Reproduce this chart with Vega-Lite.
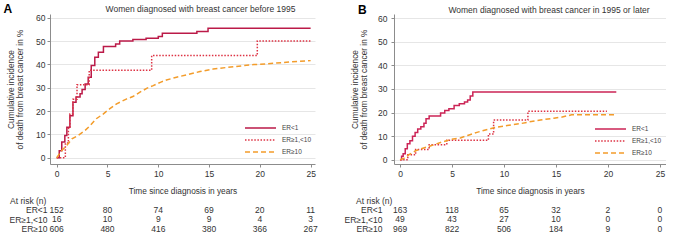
{
  "$schema": "https://vega.github.io/schema/vega-lite/v6.json",
  "padding": {"left": 3, "top": 3, "right": 0, "bottom": 0},
  "background": "white",
  "config": {
    "font": "Liberation Sans",
    "view": {"stroke": null},
    "axis": {"labelFont": "Liberation Sans", "labelFontSize": 8.5, "labelColor": "#333333", "titleFont": "Liberation Sans", "titleFontSize": 8.3, "titleFontWeight": "normal", "titleColor": "#333333", "domainColor": "#8c8c8c", "tickColor": "#8c8c8c", "tickSize": 3, "gridColor": "#e6e6e6"},
    "title": {"font": "Liberation Sans", "fontSize": 8.5, "fontWeight": "normal", "color": "#333333"},
    "legend": {"orient": "none", "title": null, "symbolType": "stroke", "symbolSize": 961, "symbolStrokeWidth": 1.5, "labelFontSize": 6.5, "labelColor": "#444444", "clipHeight": 10, "rowPadding": 2, "padding": 0, "labelOffset": 5}
  },
  "datasets": {
    "a_curves": [
      {"t": 0, "v": 0, "g": "ER<1"}, {"t": 0.25, "v": 3, "g": "ER<1"}, {"t": 0.5, "v": 6.7, "g": "ER<1"}, {"t": 0.8, "v": 9.5, "g": "ER<1"}, {"t": 1.0, "v": 13, "g": "ER<1"}, {"t": 1.3, "v": 18, "g": "ER<1"}, {"t": 1.6, "v": 23.8, "g": "ER<1"}, {"t": 1.9, "v": 26, "g": "ER<1"}, {"t": 2.3, "v": 27.4, "g": "ER<1"}, {"t": 2.5, "v": 29.2, "g": "ER<1"}, {"t": 2.8, "v": 31.6, "g": "ER<1"}, {"t": 3.1, "v": 34.5, "g": "ER<1"}, {"t": 3.4, "v": 39.5, "g": "ER<1"}, {"t": 3.75, "v": 43, "g": "ER<1"}, {"t": 4.1, "v": 45.2, "g": "ER<1"}, {"t": 4.6, "v": 47.6, "g": "ER<1"}, {"t": 5.8, "v": 48.7, "g": "ER<1"}, {"t": 6.2, "v": 50, "g": "ER<1"}, {"t": 7.5, "v": 50.6, "g": "ER<1"}, {"t": 8.8, "v": 51.2, "g": "ER<1"}, {"t": 10.0, "v": 51.9, "g": "ER<1"}, {"t": 10.4, "v": 53.3, "g": "ER<1"}, {"t": 13.8, "v": 54.1, "g": "ER<1"}, {"t": 14.9, "v": 55.5, "g": "ER<1"}, {"t": 25, "v": 55.5, "g": "ER<1"},
      {"t": 0, "v": 0, "g": "ER≥1,<10"}, {"t": 0.85, "v": 6.25, "g": "ER≥1,<10"}, {"t": 1.15, "v": 12.5, "g": "ER≥1,<10"}, {"t": 1.3, "v": 18.75, "g": "ER≥1,<10"}, {"t": 1.6, "v": 25, "g": "ER≥1,<10"}, {"t": 2.0, "v": 31.25, "g": "ER≥1,<10"}, {"t": 3.2, "v": 37.5, "g": "ER≥1,<10"}, {"t": 9.35, "v": 43.75, "g": "ER≥1,<10"}, {"t": 19.75, "v": 50, "g": "ER≥1,<10"}, {"t": 25, "v": 50, "g": "ER≥1,<10"},
      {"t": 0, "v": 0, "g": "ER≥10"}, {"t": 0.5, "v": 3.1, "g": "ER≥10"}, {"t": 1.0, "v": 5.3, "g": "ER≥10"}, {"t": 1.5, "v": 8.1, "g": "ER≥10"}, {"t": 2.1, "v": 9.5, "g": "ER≥10"}, {"t": 2.8, "v": 11.7, "g": "ER≥10"}, {"t": 3.3, "v": 13.8, "g": "ER≥10"}, {"t": 3.9, "v": 16.7, "g": "ER≥10"}, {"t": 4.6, "v": 18.8, "g": "ER≥10"}, {"t": 5.2, "v": 20.9, "g": "ER≥10"}, {"t": 5.9, "v": 23.1, "g": "ER≥10"}, {"t": 6.9, "v": 25.2, "g": "ER≥10"}, {"t": 7.5, "v": 26.2, "g": "ER≥10"}, {"t": 8.2, "v": 28.1, "g": "ER≥10"}, {"t": 8.9, "v": 29.8, "g": "ER≥10"}, {"t": 9.5, "v": 30.9, "g": "ER≥10"}, {"t": 10.2, "v": 32.3, "g": "ER≥10"}, {"t": 10.8, "v": 33.3, "g": "ER≥10"}, {"t": 11.8, "v": 34.5, "g": "ER≥10"}, {"t": 12.8, "v": 35.5, "g": "ER≥10"}, {"t": 14.1, "v": 36.9, "g": "ER≥10"}, {"t": 15.4, "v": 38, "g": "ER≥10"}, {"t": 17.4, "v": 39, "g": "ER≥10"}, {"t": 19.4, "v": 39.9, "g": "ER≥10"}, {"t": 20.7, "v": 40.2, "g": "ER≥10"}, {"t": 22.6, "v": 40.9, "g": "ER≥10"}, {"t": 23.9, "v": 41.3, "g": "ER≥10"}, {"t": 25, "v": 41.6, "g": "ER≥10"}
    ],
    "b_curves": [
      {"t": 0, "v": 0, "g": "ER<1"}, {"t": 0.15, "v": 1.5, "g": "ER<1"}, {"t": 0.3, "v": 2.5, "g": "ER<1"}, {"t": 0.5, "v": 4.7, "g": "ER<1"}, {"t": 0.7, "v": 6.8, "g": "ER<1"}, {"t": 0.95, "v": 8, "g": "ER<1"}, {"t": 1.2, "v": 10, "g": "ER<1"}, {"t": 1.45, "v": 11.5, "g": "ER<1"}, {"t": 1.7, "v": 13, "g": "ER<1"}, {"t": 2.0, "v": 14, "g": "ER<1"}, {"t": 2.3, "v": 15.5, "g": "ER<1"}, {"t": 2.5, "v": 17.4, "g": "ER<1"}, {"t": 2.8, "v": 18.5, "g": "ER<1"}, {"t": 3.9, "v": 19.8, "g": "ER<1"}, {"t": 4.3, "v": 20.8, "g": "ER<1"}, {"t": 4.7, "v": 21.6, "g": "ER<1"}, {"t": 5.2, "v": 23, "g": "ER<1"}, {"t": 5.7, "v": 23.7, "g": "ER<1"}, {"t": 6.2, "v": 24.4, "g": "ER<1"}, {"t": 6.5, "v": 25.3, "g": "ER<1"}, {"t": 6.75, "v": 27, "g": "ER<1"}, {"t": 7.0, "v": 28.7, "g": "ER<1"}, {"t": 20.8, "v": 28.7, "g": "ER<1"},
      {"t": 0, "v": 0, "g": "ER≥1,<10"}, {"t": 0.75, "v": 2.1, "g": "ER≥1,<10"}, {"t": 1.5, "v": 4.3, "g": "ER≥1,<10"}, {"t": 2.8, "v": 6.4, "g": "ER≥1,<10"}, {"t": 4.5, "v": 8.3, "g": "ER≥1,<10"}, {"t": 8.5, "v": 10.9, "g": "ER≥1,<10"}, {"t": 9.0, "v": 16.8, "g": "ER≥1,<10"}, {"t": 12.3, "v": 20.5, "g": "ER≥1,<10"}, {"t": 19.9, "v": 20.5, "g": "ER≥1,<10"},
      {"t": 0, "v": 0, "g": "ER≥10"}, {"t": 0.4, "v": 0.7, "g": "ER≥10"}, {"t": 0.9, "v": 2.3, "g": "ER≥10"}, {"t": 1.5, "v": 3.8, "g": "ER≥10"}, {"t": 2.2, "v": 4.9, "g": "ER≥10"}, {"t": 2.9, "v": 5.8, "g": "ER≥10"}, {"t": 3.9, "v": 7.3, "g": "ER≥10"}, {"t": 4.9, "v": 8.6, "g": "ER≥10"}, {"t": 5.8, "v": 9.2, "g": "ER≥10"}, {"t": 6.5, "v": 10.3, "g": "ER≥10"}, {"t": 7.4, "v": 11.6, "g": "ER≥10"}, {"t": 8.4, "v": 12.8, "g": "ER≥10"}, {"t": 9.3, "v": 13.8, "g": "ER≥10"}, {"t": 10.3, "v": 14.5, "g": "ER≥10"}, {"t": 11.6, "v": 15.3, "g": "ER≥10"}, {"t": 12.4, "v": 16, "g": "ER≥10"}, {"t": 13.5, "v": 16.8, "g": "ER≥10"}, {"t": 14.8, "v": 17.6, "g": "ER≥10"}, {"t": 15.6, "v": 18.1, "g": "ER≥10"}, {"t": 16.5, "v": 19, "g": "ER≥10"}, {"t": 20.6, "v": 19, "g": "ER≥10"}
    ],
    "a_risk": [
      {"t": 0, "g": "ER<1", "n": "152"}, {"t": 5, "g": "ER<1", "n": "80"}, {"t": 10, "g": "ER<1", "n": "74"}, {"t": 15, "g": "ER<1", "n": "69"}, {"t": 20, "g": "ER<1", "n": "20"}, {"t": 25, "g": "ER<1", "n": "11"},
      {"t": 0, "g": "ER≥1,<10", "n": "16"}, {"t": 5, "g": "ER≥1,<10", "n": "10"}, {"t": 10, "g": "ER≥1,<10", "n": "9"}, {"t": 15, "g": "ER≥1,<10", "n": "9"}, {"t": 20, "g": "ER≥1,<10", "n": "4"}, {"t": 25, "g": "ER≥1,<10", "n": "3"},
      {"t": 0, "g": "ER≥10", "n": "606"}, {"t": 5, "g": "ER≥10", "n": "480"}, {"t": 10, "g": "ER≥10", "n": "416"}, {"t": 15, "g": "ER≥10", "n": "380"}, {"t": 20, "g": "ER≥10", "n": "366"}, {"t": 25, "g": "ER≥10", "n": "267"}
    ],
    "b_risk": [
      {"t": 0, "g": "ER<1", "n": "163"}, {"t": 5, "g": "ER<1", "n": "118"}, {"t": 10, "g": "ER<1", "n": "65"}, {"t": 15, "g": "ER<1", "n": "32"}, {"t": 20, "g": "ER<1", "n": "2"}, {"t": 25, "g": "ER<1", "n": "0"},
      {"t": 0, "g": "ER≥1,<10", "n": "49"}, {"t": 5, "g": "ER≥1,<10", "n": "43"}, {"t": 10, "g": "ER≥1,<10", "n": "27"}, {"t": 15, "g": "ER≥1,<10", "n": "10"}, {"t": 20, "g": "ER≥1,<10", "n": "0"}, {"t": 25, "g": "ER≥1,<10", "n": "0"},
      {"t": 0, "g": "ER≥10", "n": "969"}, {"t": 5, "g": "ER≥10", "n": "822"}, {"t": 10, "g": "ER≥10", "n": "506"}, {"t": 15, "g": "ER≥10", "n": "184"}, {"t": 20, "g": "ER≥10", "n": "9"}, {"t": 25, "g": "ER≥10", "n": "0"}
    ]
  },
  "spacing": 26,
  "resolve": {"scale": {"x": "independent", "y": "independent", "color": "independent", "strokeDash": "independent"}, "legend": {"color": "independent", "strokeDash": "independent"}},
  "hconcat": [
    {
      "title": {"text": "A", "anchor": "start", "frame": "bounds", "fontSize": 12, "fontWeight": "bold", "color": "#000000", "offset": -11, "dx": -3},
      "spacing": 1,
      "resolve": {"scale": {"x": "independent", "y": "independent", "color": "independent", "strokeDash": "independent"}, "legend": {"color": "independent", "strokeDash": "independent"}},
      "vconcat": [
        {
          "width": 265, "height": 150,
          "title": {"text": "Women diagnosed with breast cancer before 1995", "anchor": "middle", "dx": 18, "offset": 0},
          "data": {"name": "a_curves"},
          "encoding": {
            "x": {"field": "t", "type": "quantitative", "scale": {"domain": [-0.66, 25.43], "nice": false, "zero": false}, "axis": {"values": [0, 5, 10, 15, 20, 25], "title": "Time since diagnosis in years", "grid": false, "titlePadding": 9, "labelPadding": 2}},
            "y": {"field": "v", "type": "quantitative", "scale": {"domain": [-2.7, 61.58], "nice": false, "zero": false}, "axis": {"values": [0, 10, 20, 30, 40, 50, 60], "title": ["Cumulative incidence", "of death from breast cancer in %"], "grid": true, "titlePadding": 11, "labelPadding": 2, "titleLineHeight": 9}},
            "color": {"field": "g", "type": "nominal", "scale": {"domain": ["ER<1", "ER≥1,<10", "ER≥10"], "range": ["#bb1a48", "#dd3344", "#f39c2a"]}, "legend": {"legendX": 194, "legendY": 109}},
            "strokeDash": {"field": "g", "type": "nominal", "scale": {"domain": ["ER<1", "ER≥1,<10", "ER≥10"], "range": [[1, 0], [1.5, 1.6], [5, 3]]}, "legend": {"legendX": 194, "legendY": 109}}
          },
          "layer": [
            {"transform": [{"filter": "datum.g !== 'ER≥10'"}], "mark": {"type": "line", "interpolate": "step-after", "strokeWidth": 1.5}},
            {"transform": [{"filter": "datum.g === 'ER≥10'"}], "mark": {"type": "line", "strokeWidth": 1.5}}
          ]
        },
        {
          "width": 265, "height": 28.5,
          "title": {"text": "At risk (n)", "anchor": "start", "frame": "bounds", "offset": 0, "dx": 1},
          "data": {"name": "a_risk"},
          "mark": {"type": "text", "fontSize": 8.5, "color": "#333333", "baseline": "middle"},
          "encoding": {
            "x": {"field": "t", "type": "quantitative", "scale": {"domain": [-0.66, 25.43], "nice": false, "zero": false}, "axis": null},
            "y": {"field": "g", "type": "nominal", "scale": {"type": "point", "domain": ["ER<1", "ER≥1,<10", "ER≥10"], "padding": 0.5}, "axis": {"title": null, "domain": false, "ticks": false, "labelPadding": 3, "grid": false}},
            "text": {"field": "n", "type": "nominal"}
          }
        }
      ]
    },
    {
      "title": {"text": "B", "anchor": "start", "frame": "bounds", "fontSize": 12, "fontWeight": "bold", "color": "#000000", "offset": -11, "dx": 14},
      "spacing": 1,
      "resolve": {"scale": {"x": "independent", "y": "independent", "color": "independent", "strokeDash": "independent"}, "legend": {"color": "independent", "strokeDash": "independent"}},
      "vconcat": [
        {
          "width": 272, "height": 150,
          "title": {"text": "Women diagnosed with breast cancer in 1995 or later", "anchor": "middle", "dx": 19, "offset": 0},
          "data": {"name": "b_curves"},
          "encoding": {
            "x": {"field": "t", "type": "quantitative", "scale": {"domain": [-0.58, 25.58], "nice": false, "zero": false}, "axis": {"values": [0, 5, 10, 15, 20, 25], "title": "Time since diagnosis in years", "grid": false, "titlePadding": 9, "labelPadding": 2}},
            "y": {"field": "v", "type": "quantitative", "scale": {"domain": [-1.8, 61.7], "nice": false, "zero": false}, "axis": {"values": [0, 10, 20, 30, 40, 50, 60], "title": ["Cumulative incidence", "of death from breast cancer in %"], "grid": true, "titlePadding": 9, "labelPadding": 4, "titleLineHeight": 9}},
            "color": {"field": "g", "type": "nominal", "scale": {"domain": ["ER<1", "ER≥1,<10", "ER≥10"], "range": ["#cc2456", "#dd3344", "#f39c2a"]}, "legend": {"legendX": 200, "legendY": 110}},
            "strokeDash": {"field": "g", "type": "nominal", "scale": {"domain": ["ER<1", "ER≥1,<10", "ER≥10"], "range": [[1, 0], [1.5, 1.6], [5, 3]]}, "legend": {"legendX": 200, "legendY": 110}}
          },
          "layer": [
            {"transform": [{"filter": "datum.g !== 'ER≥10'"}], "mark": {"type": "line", "interpolate": "step-after", "strokeWidth": 1.5}},
            {"transform": [{"filter": "datum.g === 'ER≥10'"}], "mark": {"type": "line", "strokeWidth": 1.5}}
          ]
        },
        {
          "width": 272, "height": 28.5,
          "title": {"text": "At risk (n)", "anchor": "start", "frame": "bounds", "offset": 0, "dx": 12},
          "data": {"name": "b_risk"},
          "mark": {"type": "text", "fontSize": 8.5, "color": "#333333", "baseline": "middle"},
          "encoding": {
            "x": {"field": "t", "type": "quantitative", "scale": {"domain": [-0.58, 25.58], "nice": false, "zero": false}, "axis": null},
            "y": {"field": "g", "type": "nominal", "scale": {"type": "point", "domain": ["ER<1", "ER≥1,<10", "ER≥10"], "padding": 0.5}, "axis": {"title": null, "domain": false, "ticks": false, "labelPadding": 12, "grid": false}},
            "text": {"field": "n", "type": "nominal"}
          }
        }
      ]
    }
  ]
}
